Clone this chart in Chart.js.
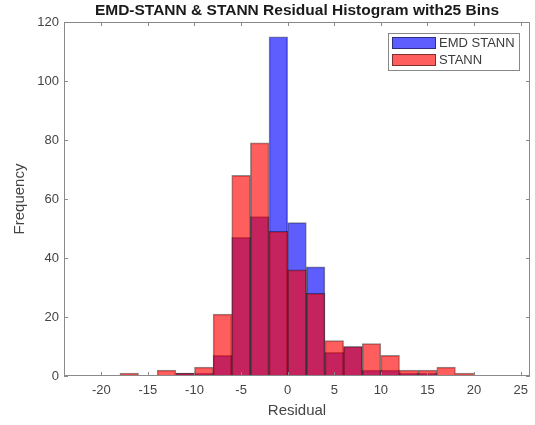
<!DOCTYPE html>
<html><head><meta charset="utf-8">
<script src="https://cdn.jsdelivr.net/npm/chart.js@4.4.1/dist/chart.umd.min.js"></script>
<style>html,body{margin:0;padding:0;background:#fff;overflow:hidden}</style>
</head><body>
<canvas id="c" width="535" height="425" style="display:block;width:535px;height:425px"></canvas>
<script>
const binCenters = [-17,-15,-13,-11,-9,-7,-5,-3,-1,1,3,5,7,9,11,13,15,17,19];
const emdStann   = [0,0,0,1,1,7,47,54,115,52,37,8,10,2,2,1,1,0,0];
const stann      = [1,0,2,1,3,21,68,79,49,36,28,12,10,11,7,2,2,3,1];
const xTicks = [-20,-15,-10,-5,0,5,10,15,20,25];
const yTicks = [0,20,40,60,80,100,120];
const titleText = 'EMD-STANN & STANN Residual Histogram with25 Bins';

const FONT = "'Liberation Sans', Arial, Helvetica, sans-serif";
const TXT = '#444';
const AXC = '#8a8a8a';

const toPts = arr => binCenters.map((x,i)=>({x:x, y: arr[i] > 0 ? arr[i] : null}));

const framePlugin = {
  id: 'frame',
  afterDatasetsDraw(chart) {
    const {ctx, chartArea: a, scales} = chart;
    ctx.save();
    ctx.strokeStyle = AXC;
    ctx.lineWidth = 1;
    ctx.strokeRect(Math.round(a.left)+0.5, Math.round(a.top)+0.5, Math.round(a.right-a.left)-1, Math.round(a.bottom-a.top)-1);
    const L = 4;
    ctx.beginPath();
    xTicks.forEach(v => {
      const px = Math.round(scales.x.getPixelForValue(v)) + 0.5;
      ctx.moveTo(px, a.bottom); ctx.lineTo(px, a.bottom - L);
      ctx.moveTo(px, a.top); ctx.lineTo(px, a.top + L);
    });
    yTicks.forEach(v => {
      const py = Math.round(scales.y.getPixelForValue(v)) + 0.5;
      ctx.moveTo(a.left, py); ctx.lineTo(a.left + L, py);
      ctx.moveTo(a.right, py); ctx.lineTo(a.right - L, py);
    });
    ctx.stroke();
    // title
    ctx.fillStyle = '#1a1a1a';
    ctx.font = 'bold 15.5px ' + FONT;
    ctx.textAlign = 'center';
    ctx.textBaseline = 'middle';
    ctx.fillText(titleText, (a.left + a.right)/2, 11);
    // legend
    const lx = 388, ly = 33, lw = 131, lh = 37;
    ctx.fillStyle = '#fff';
    ctx.fillRect(lx, ly, lw, lh);
    ctx.strokeStyle = '#888';
    ctx.strokeRect(lx+0.5, ly+0.5, lw, lh);
    const order = [1, 0];
    order.forEach((di, k) => {
      const ds = chart.data.datasets[di];
      const sy = 37 + k*17;
      ctx.fillStyle = ds.backgroundColor;
      ctx.fillRect(392, sy, 44, 12);
      ctx.strokeStyle = 'rgba(0,0,0,0.5)';
      ctx.strokeRect(392.5, sy+0.5, 43, 11);
      ctx.fillStyle = '#3a3a3a';
      ctx.font = '13px ' + FONT;
      ctx.textAlign = 'left';
      ctx.textBaseline = 'middle';
      ctx.fillText(ds.label, 439, sy + 6.5);
    });
    ctx.restore();
  }
};

new Chart(document.getElementById('c'), {
  type: 'bar',
  data: {
    datasets: [
      { label: 'STANN', data: toPts(stann), backgroundColor: 'rgba(255,0,0,0.63)',
        borderColor: 'rgba(0,0,0,0.45)', borderWidth: 1 },
      { label: 'EMD STANN', data: toPts(emdStann), backgroundColor: 'rgba(0,0,255,0.63)',
        borderColor: 'rgba(0,0,0,0.45)', borderWidth: 1 }
    ]
  },
  options: {
    responsive: false,
    animation: false,
    grouped: false,
    categoryPercentage: 1,
    barPercentage: 1,
    layout: { padding: { top: 22, right: 5, left: 0, bottom: 0 } },
    plugins: { legend: { display: false }, title: { display: false }, tooltip: { enabled: false } },
    scales: {
      x: {
        type: 'linear', min: -24, max: 26, offset: false,
        afterBuildTicks: s => { s.ticks = xTicks.map(v => ({value: v})); },
        afterFit: s => { s.height = 49; },
        grid: { display: false, drawTicks: false },
        border: { display: false },
        ticks: { color: TXT, font: { family: FONT, size: 13 }, padding: 7, maxRotation: 0, autoSkip: false },
        title: { display: true, text: 'Residual', color: TXT, font: { family: FONT, size: 15 }, padding: { top: 0, bottom: 5 } }
      },
      y: {
        min: 0, max: 120,
        afterBuildTicks: s => { s.ticks = yTicks.map(v => ({value: v})); },
        afterFit: s => { s.width = 64; },
        grid: { display: false, drawTicks: false },
        border: { display: false },
        ticks: { color: TXT, font: { family: FONT, size: 13 }, padding: 5 },
        title: { display: true, text: 'Frequency', color: TXT, font: { family: FONT, size: 15 }, padding: { top: 11, bottom: 0 } }
      }
    }
  },
  plugins: [framePlugin]
});
</script>
</body></html>
